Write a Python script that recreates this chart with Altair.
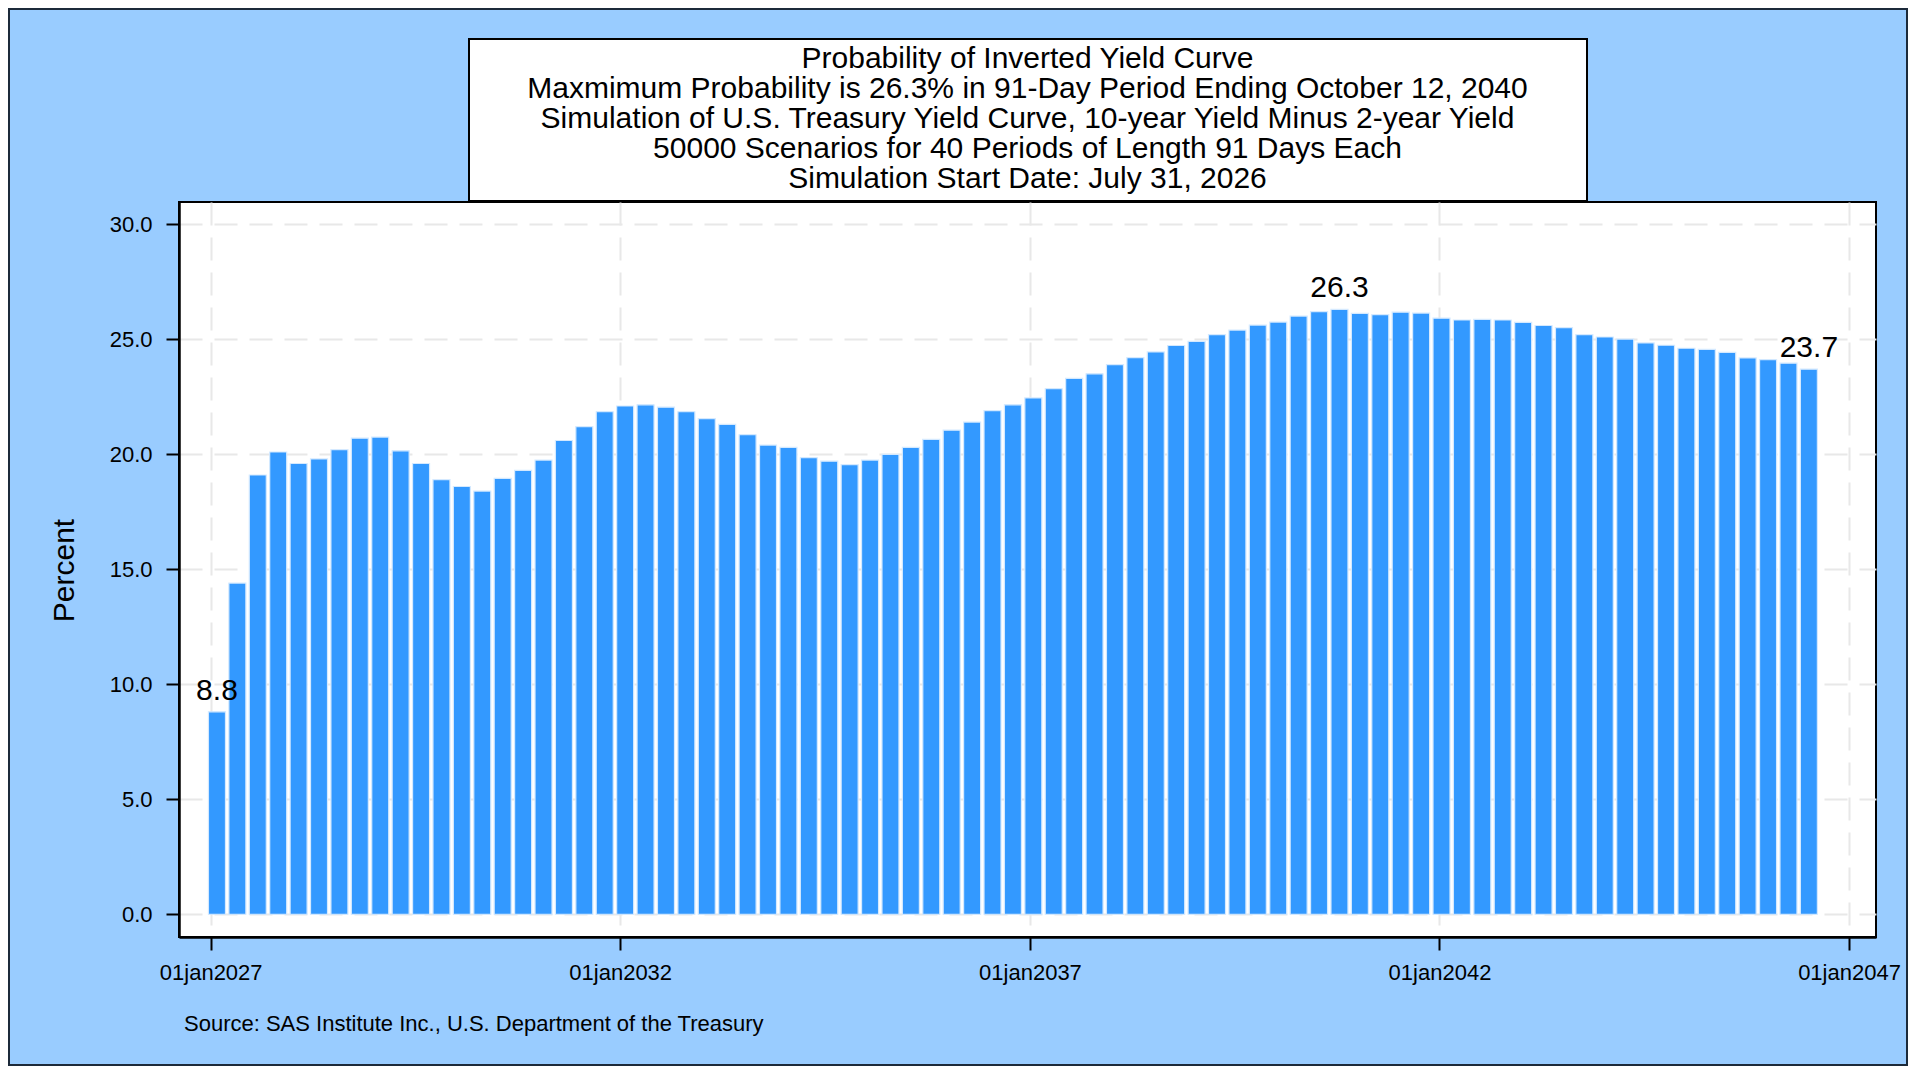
import altair as alt
import pandas as pd
import numpy as np

# ---- data -------------------------------------------------------------
sim_start = "2026-07-31"
period_days = 91
periods = list(range(2, 81))
values = [8.8, 14.4, 19.1, 20.1, 19.6, 19.8, 20.2, 20.7, 20.75, 20.15,
          19.6, 18.9, 18.6, 18.4, 18.95, 19.3, 19.75, 20.6, 21.2, 21.85,
          22.1, 22.15, 22.05, 21.85, 21.55, 21.3, 20.85, 20.4, 20.3, 19.85,
          19.7, 19.55, 19.75, 20.0, 20.3, 20.65, 21.05, 21.4, 21.9, 22.15,
          22.45, 22.85, 23.3, 23.5, 23.9, 24.2, 24.45, 24.73, 24.91, 25.2,
          25.4, 25.62, 25.75, 26.01, 26.2, 26.3, 26.13, 26.07, 26.18, 26.14,
          25.92, 25.84, 25.87, 25.84, 25.74, 25.6, 25.51, 25.2, 25.1, 25.01,
          24.84, 24.74, 24.61, 24.56, 24.43, 24.19, 24.11, 23.96, 23.7]
tick_years = [2027, 2032, 2037, 2042, 2047]
y_ticks = [0, 5, 10, 15, 20, 25, 30]
title_lines = [
    "Probability of Inverted Yield Curve",
    "Maxmimum Probability is 26.3% in 91-Day Period Ending October 12, 2040",
    "Simulation of U.S. Treasury Yield Curve, 10-year Yield Minus 2-year Yield",
    "50000 Scenarios for 40 Periods of Length 91 Days Each",
    "Simulation Start Date: July 31, 2026",
]
source_note = "Source: SAS Institute Inc., U.S. Department of the Treasury"

start = pd.Timestamp(sim_start)
dates = [(start + pd.Timedelta(days=period_days * p)).strftime("%Y-%m-%d") for p in periods]
df = pd.DataFrame({"date": dates, "pct": values})
df["label"] = ""
lab_idx = [0, int(np.argmax(values)), len(values) - 1]
df.loc[lab_idx, "label"] = [f"{values[i]:.1f}" for i in lab_idx]

FONT = "Liberation Sans"
PLOT_W, PLOT_H = 1697, 735

# ---- encodings --------------------------------------------------------
x_enc = alt.X(
    "date:T",
    scale=alt.Scale(type="utc", domain=[
        alt.DateTime(year=2026, month=9, date=4, utc=True),
        alt.DateTime(year=2047, month=4, date=9, utc=True)]),
    axis=alt.Axis(
        values=[alt.DateTime(year=yr, month=1, date=1, utc=True) for yr in tick_years],
        labelExpr="lower(utcFormat(datum.value, '%d%b%Y'))",
        title=None, labelPadding=12, labelFlush=False, labelOverlap=False),
)
y_enc = alt.Y(
    "pct:Q",
    scale=alt.Scale(domain=[-0.99, 30.97], nice=False, zero=False),
    axis=alt.Axis(values=y_ticks, format=".1f", title="Percent",
                  titleX=-115, titleY=368, titleBaseline="middle",
                  titleAlign="center", titleFontSize=30, titleFont=FONT,
                  titleFontWeight="normal", titleColor="black", labelPadding=14),
)

bars = alt.Chart(df).mark_bar(width=17, color="#3399FF", stroke="#d4e9ff",
                              strokeWidth=1.2).encode(
    x=x_enc, y=y_enc, y2=alt.datum(0))

labels = alt.Chart(df).transform_filter("datum.label != ''").mark_text(
    fontSize=30, font=FONT, color="black", baseline="alphabetic", dy=-12).encode(
    x=alt.X("date:T"), y=alt.Y("pct:Q"), text="label:N")

one = pd.DataFrame({"k": [0]})
outer = alt.Chart(one).mark_rect(filled=False, stroke="#1c2a3a", strokeWidth=2).encode(
    x=alt.value(-170), x2=alt.value(1728), y=alt.value(-193), y2=alt.value(863))
box = alt.Chart(one).mark_rect(fill="white", stroke="black", strokeWidth=2).encode(
    x=alt.value(290), x2=alt.value(1408), y=alt.value(-163), y2=alt.value(-1))
title_txt = alt.Chart(one).mark_text(
    align="center", baseline="middle", fontSize=30, lineHeight=30, font=FONT,
    color="black", text=title_lines).encode(
    x=alt.value(PLOT_W / 2), y=alt.value(-143))
src = alt.Chart(pd.DataFrame({"t": [source_note]})).mark_text(
    align="left", baseline="middle", fontSize=22, font=FONT, color="black").encode(
    x=alt.value(5), y=alt.value(822), text="t:N")

chart = alt.layer(outer, box, title_txt, bars, labels, src).properties(
    width=PLOT_W, height=PLOT_H,
    autosize=alt.AutoSizeParams(type="none"),
    padding={"left": 171, "top": 194, "right": 32, "bottom": 129},
    background="#99CCFF",
).configure_view(
    fill="white", stroke="black", strokeWidth=2
).configure_axis(
    labelFont=FONT, labelFontSize=22, labelColor="black",
    tickSize=13, tickWidth=2, tickColor="black",
    domain=True, domainColor="black", domainWidth=2.5,
    grid=True, gridColor="#e8e8e8", gridDash=[23, 12], gridWidth=2,
)

chart.save("out.html", embed_options={"renderer": "svg", "actions": False})
